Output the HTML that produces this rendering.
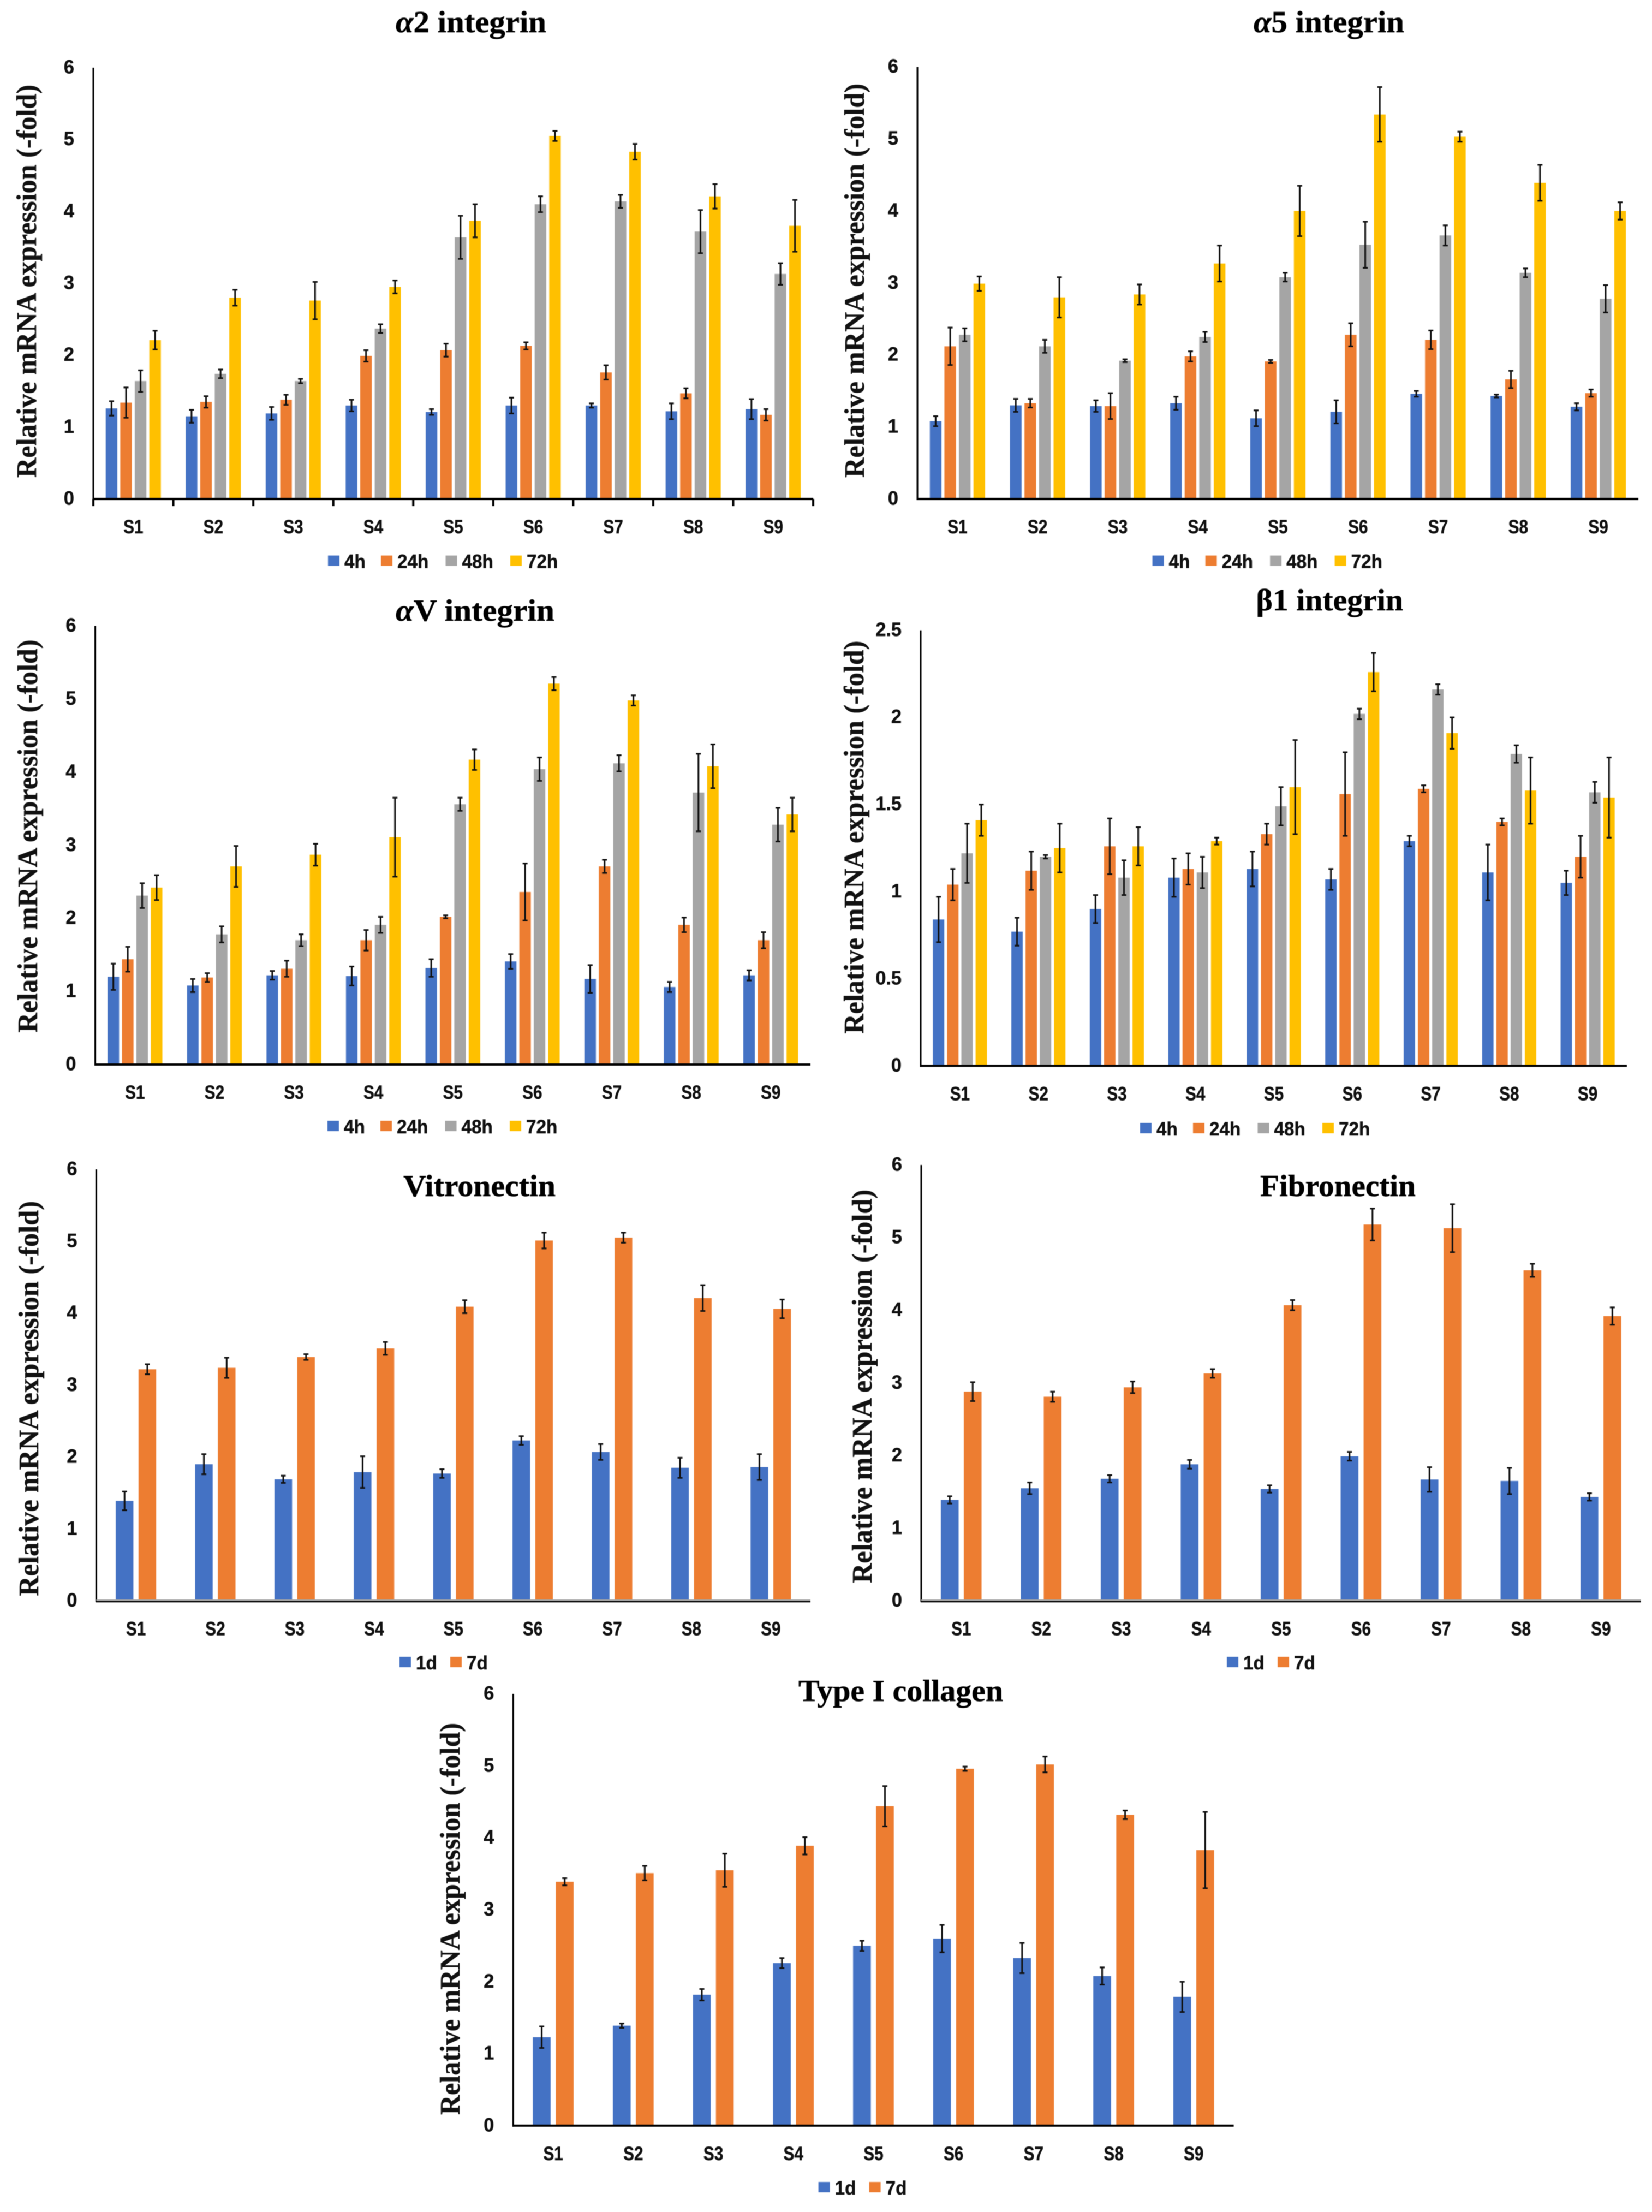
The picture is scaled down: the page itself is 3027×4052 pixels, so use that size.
<!DOCTYPE html>
<html lang="en">
<head>
<meta charset="utf-8">
<title>Relative mRNA expression charts</title>
<style>
html,body{margin:0;padding:0;background:#fff;}
svg{display:block;filter:blur(0.6px);}
.tick{font-family:"Liberation Sans",sans-serif;font-weight:bold;font-size:35px;fill:#111;stroke:#111;stroke-width:0.5px;}
.title{font-family:"Liberation Serif",serif;font-weight:bold;font-size:56px;fill:#000;stroke:#000;stroke-width:0.5px;}
.ytitle{font-family:"Liberation Serif",serif;font-weight:bold;font-size:52px;fill:#111;stroke:#111;stroke-width:0.4px;}
</style>
</head>
<body>
<svg id="figure" xmlns="http://www.w3.org/2000/svg" width="3027" height="4052" viewBox="0 0 3027 4052"></svg>
<script>
const categories = ['S1','S2','S3','S4','S5','S6','S7','S8','S9'];
const foldTicks = ['0','1','2','3','4','5','6'];
const betaTicks = ['0','0.5','1','1.5','2','2.5'];
const timeLabelsHours = ['4h','24h','48h','72h'];
const timeLabelsDays = ['1d','7d'];
const yAxisLabel = 'Relative mRNA expression (-fold)';

const a2_4h = [1.26,1.15,1.19,1.30,1.21,1.30,1.30,1.22,1.25];
const a2_4h_err = [0.10,0.09,0.09,0.08,0.04,0.11,0.03,0.11,0.14];
const a2_24h = [1.34,1.35,1.38,1.99,2.07,2.13,1.76,1.47,1.17];
const a2_24h_err = [0.21,0.08,0.07,0.08,0.09,0.05,0.10,0.07,0.08];
const a2_48h = [1.64,1.74,1.64,2.37,3.64,4.10,4.14,3.72,3.13];
const a2_48h_err = [0.15,0.06,0.03,0.06,0.30,0.11,0.09,0.30,0.15];
const a2_72h = [2.21,2.80,2.76,2.95,3.87,5.05,4.83,4.21,3.80];
const a2_72h_err = [0.13,0.11,0.26,0.09,0.23,0.07,0.11,0.17,0.36];

const a5_4h = [1.08,1.30,1.29,1.33,1.12,1.21,1.46,1.43,1.28];
const a5_4h_err = [0.07,0.09,0.08,0.09,0.11,0.16,0.04,0.02,0.05];
const a5_24h = [2.12,1.33,1.29,1.98,1.91,2.28,2.21,1.66,1.47];
const a5_24h_err = [0.26,0.06,0.18,0.07,0.02,0.16,0.13,0.12,0.05];
const a5_48h = [2.28,2.12,1.92,2.25,3.08,3.53,3.66,3.14,2.78];
const a5_48h_err = [0.09,0.09,0.02,0.07,0.06,0.32,0.14,0.06,0.19];
const a5_72h = [2.99,2.80,2.84,3.27,4.00,5.34,5.03,4.39,4.00];
const a5_72h_err = [0.10,0.28,0.14,0.25,0.35,0.38,0.07,0.25,0.12];

const av_4h = [1.20,1.08,1.22,1.21,1.32,1.41,1.17,1.06,1.22];
const av_4h_err = [0.18,0.09,0.06,0.13,0.12,0.10,0.19,0.07,0.07];
const av_24h = [1.44,1.19,1.31,1.70,2.02,2.36,2.71,1.91,1.70];
const av_24h_err = [0.17,0.06,0.11,0.14,0.02,0.39,0.09,0.10,0.11];
const av_48h = [2.31,1.78,1.70,1.91,3.56,4.04,4.12,3.72,3.28];
const av_48h_err = [0.17,0.11,0.08,0.11,0.09,0.16,0.11,0.53,0.23];
const av_72h = [2.42,2.71,2.87,3.11,4.17,5.21,4.98,4.08,3.42];
const av_72h_err = [0.17,0.28,0.15,0.54,0.14,0.09,0.07,0.30,0.23];

const b1_4h = [0.84,0.77,0.90,1.08,1.13,1.07,1.29,1.11,1.05];
const b1_4h_err = [0.13,0.08,0.08,0.11,0.10,0.06,0.03,0.16,0.07];
const b1_24h = [1.04,1.12,1.26,1.13,1.33,1.56,1.59,1.40,1.20];
const b1_24h_err = [0.09,0.11,0.16,0.09,0.06,0.24,0.02,0.02,0.12];
const b1_48h = [1.22,1.20,1.08,1.11,1.49,2.02,2.16,1.79,1.57];
const b1_48h_err = [0.17,0.01,0.10,0.09,0.11,0.03,0.03,0.05,0.06];
const b1_72h = [1.41,1.25,1.26,1.29,1.60,2.26,1.91,1.58,1.54];
const b1_72h_err = [0.09,0.14,0.11,0.02,0.27,0.11,0.09,0.19,0.23];

const vit_1d = [1.39,1.90,1.69,1.79,1.77,2.23,2.07,1.85,1.86];
const vit_1d_err = [0.13,0.14,0.05,0.22,0.06,0.06,0.11,0.14,0.18];
const vit_7d = [3.22,3.24,3.39,3.51,4.09,5.01,5.05,4.21,4.06];
const vit_7d_err = [0.07,0.14,0.04,0.09,0.09,0.11,0.07,0.18,0.13];

const fib_1d = [1.39,1.55,1.68,1.88,1.54,1.99,1.67,1.65,1.43];
const fib_1d_err = [0.05,0.08,0.05,0.06,0.05,0.06,0.17,0.18,0.05];
const fib_7d = [2.88,2.81,2.94,3.13,4.07,5.18,5.13,4.55,3.92];
const fib_7d_err = [0.13,0.07,0.08,0.06,0.07,0.22,0.33,0.09,0.12];

const col_1d = [1.23,1.39,1.82,2.26,2.50,2.60,2.33,2.08,1.79];
const col_1d_err = [0.15,0.03,0.08,0.07,0.07,0.19,0.21,0.12,0.21];
const col_7d = [3.39,3.51,3.55,3.89,4.44,4.96,5.02,4.32,3.83];
const col_7d_err = [0.05,0.10,0.23,0.12,0.28,0.03,0.11,0.06,0.53];

const seriesColors = ['#4472C4','#ED7D31','#A5A5A5','#FFC000'];

const charts = [
  { name:'alpha2-integrin', ymax:6, ticks:foldTicks, labels:timeLabelsHours,
    values:[a2_4h,a2_24h,a2_48h,a2_72h], errors:[a2_4h_err,a2_24h_err,a2_48h_err,a2_72h_err],
    x0:171, x1:1490, base:914, top:124, title:['α','2 integrin'], titleX:725, titleW:276, titleY:59,
    yTitleX:66, yTitleA:155, yTitleB:875, legendX:601, legendY:1027.6, xTicks:true, grayBase:false },
  { name:'alpha5-integrin', ymax:6, ticks:foldTicks, labels:timeLabelsHours,
    values:[a5_4h,a5_24h,a5_48h,a5_72h], errors:[a5_4h_err,a5_24h_err,a5_48h_err,a5_72h_err],
    x0:1681, x1:3002, base:914, top:122.6, title:['α','5 integrin'], titleX:2297, titleW:276, titleY:59,
    yTitleX:1583, yTitleA:153, yTitleB:875, legendX:2111.6, legendY:1027.6, xTicks:false, grayBase:false },
  { name:'alphaV-integrin', ymax:6, ticks:foldTicks, labels:timeLabelsHours,
    values:[av_4h,av_24h,av_48h,av_72h], errors:[av_4h_err,av_24h_err,av_48h_err,av_72h_err],
    x0:174.5, x1:1485, base:1950, top:1146.5, title:['α','V integrin'], titleX:725, titleW:291, titleY:1137,
    yTitleX:68, yTitleA:1171.5, yTitleB:1891.5, legendX:600, legendY:2063, xTicks:false, grayBase:false },
  { name:'beta1-integrin', ymax:2.5, ticks:betaTicks, labels:timeLabelsHours,
    values:[b1_4h,b1_24h,b1_48h,b1_72h], errors:[b1_4h_err,b1_24h_err,b1_48h_err,b1_72h_err],
    x0:1687, x1:2981, base:1952.4, top:1154.6, title:['','β1 integrin'], titleX:2301.5, titleW:269.5, titleY:1118,
    yTitleX:1582, yTitleA:1173.6, yTitleB:1893.6, legendX:2089, legendY:2067, xTicks:false, grayBase:false },
  { name:'vitronectin', ymax:6, ticks:foldTicks, labels:timeLabelsDays,
    values:[vit_1d,vit_7d], errors:[vit_1d_err,vit_7d_err],
    x0:176.4, x1:1485, base:2932.5, top:2142, title:['','Vitronectin'], titleX:739, titleW:279, titleY:2191,
    yTitleX:70, yTitleA:2200, yTitleB:2923.7, legendX:732, legendY:3045, xTicks:false, grayBase:true },
  { name:'fibronectin', ymax:6, ticks:foldTicks, labels:timeLabelsDays,
    values:[fib_1d,fib_7d], errors:[fib_1d_err,fib_7d_err],
    x0:1688, x1:3006.6, base:2932.5, top:2134, title:['','Fibronectin'], titleX:2309, titleW:285, titleY:2191,
    yTitleX:1597, yTitleA:2179, yTitleB:2900, legendX:2248, legendY:3045, xTicks:false, grayBase:true },
  { name:'type-i-collagen', ymax:6, ticks:foldTicks, labels:timeLabelsDays,
    values:[col_1d,col_7d], errors:[col_1d_err,col_7d_err],
    x0:940.3, x1:2260.6, base:3893.9, top:3103, title:['','Type I collagen'], titleX:1463, titleW:375, titleY:3116,
    yTitleX:842, yTitleA:3156, yTitleB:3874, legendX:1499.6, legendY:4007, xTicks:false, grayBase:false }
];

const SVG_NS = 'http://www.w3.org/2000/svg';
const figure = document.getElementById('figure');

function shape(parent, tag, attrs) {
  const el = document.createElementNS(SVG_NS, tag);
  for (const key in attrs) el.setAttribute(key, attrs[key]);
  parent.appendChild(el);
  return el;
}
function yScale(c, v) { return c.base - (v / c.ymax) * (c.base - c.top); }
function categoryWidth(c) { return (c.x1 - c.x0) / categories.length; }
function categoryCenter(c, i) { return c.x0 + categoryWidth(c) * (i + 0.5); }
function barWidth(c, n) { return categoryWidth(c) * (n === 4 ? 0.145 : 0.222); }
function barPitch(c, n) { return categoryWidth(c) * (n === 4 ? 0.1815 : 0.287); }
function barLeft(c, i, s, n) {
  const total = barPitch(c, n) * (n - 1) + barWidth(c, n);
  return categoryCenter(c, i) - total / 2 + barPitch(c, n) * s;
}

function drawChart(c) {
  const group = shape(figure, 'g', {});
  
  

  const title = shape(group, 'text', { class:'title', x:c.titleX, y:c.titleY, textLength:c.titleW, lengthAdjust:'spacingAndGlyphs' });
  
  
  if (c.title[0]) {
    const greek = shape(title, 'tspan', { 'font-style':'italic' });
    greek.textContent = c.title[0];
  }
  title.appendChild(document.createTextNode(c.title[1]));

  const yMid = (c.yTitleA + c.yTitleB) / 2;
  const yTitle = shape(group, 'text', { class:'ytitle', 'text-anchor':'middle', textLength:c.yTitleB - c.yTitleA, lengthAdjust:'spacingAndGlyphs',
    transform:'translate(' + c.yTitleX + ' ' + yMid + ') rotate(-90)' });
  
  
  yTitle.textContent = yAxisLabel;

  c.ticks.forEach(function (t) {
    const label = shape(group, 'text', { class:'tick', 'text-anchor':'end',
      transform:'translate(' + (c.x0 - 35) + ' ' + (yScale(c, parseFloat(t)) + 10.5) + ') scale(0.98 1)' });
    
    
    label.textContent = t;
  });

  categories.forEach(function (cat, i) {
    const label = shape(group, 'text', { class:'tick', 'text-anchor':'middle',
      transform:'translate(' + categoryCenter(c, i) + ' ' + (c.base + 63) + ') scale(0.85 1)' });
    
    
    label.textContent = cat;
  });

  const n = c.values.length;
  c.values.forEach(function (vals, s) {
    vals.forEach(function (v, i) {
      const left = barLeft(c, i, s, n);
      const w = barWidth(c, n);
      const bar = shape(group, 'rect', { x:left, y:yScale(c, v), width:w, height:c.base - yScale(c, v), fill:seriesColors[s] });
      
      
    });
  });
  c.values.forEach(function (vals, s) {
    vals.forEach(function (v, i) {
      const cx = barLeft(c, i, s, n) + barWidth(c, n) / 2;
      const e = c.errors[s][i];
      const yHi = yScale(c, v + e);
      const yLo = yScale(c, v - e);
      const err = shape(group, 'path', { d:'M' + cx + ' ' + yHi + 'V' + yLo + 'M' + (cx - 4.5) + ' ' + yHi + 'H' + (cx + 4.5) + 'M' + (cx - 4.5) + ' ' + yLo + 'H' + (cx + 4.5),
        stroke:'#111', 'stroke-width':3, fill:'none' });
      
      
    });
  });

  const yAxis = shape(group, 'line', { x1:c.x0, x2:c.x0, y1:c.top, y2:c.base + 2, stroke:'#000', 'stroke-width':3 });
  
  

  if (c.grayBase) {
    const under = shape(group, 'line', { x1:c.x0, x2:c.x1, y1:c.base - 1, y2:c.base - 1, stroke:'#A5A5A5', 'stroke-width':3 });
    
    
  }
  const xAxis = shape(group, 'line', { x1:c.x0 - 1, x2:c.x1, y1:c.base + (c.grayBase ? 1.5 : 0), y2:c.base + (c.grayBase ? 1.5 : 0), stroke:'#000', 'stroke-width':c.grayBase ? 2.4 : 4 });
  
  

  if (c.xTicks) {
    for (let i = 0; i <= categories.length; i++) {
      const tx = c.x0 + categoryWidth(c) * i;
      const tick = shape(group, 'line', { x1:tx, x2:tx, y1:c.base, y2:c.base + 13, stroke:'#000', 'stroke-width':4 });
      
      
    }
  }

  let lx = c.legendX;
  c.labels.forEach(function (lab, s) {
    const swatch = shape(group, 'rect', { x:lx, y:c.legendY - 10, width:21, height:19, fill:seriesColors[s] });
    
    
    const text = shape(group, 'text', { class:'tick', transform:'translate(' + (lx + 30) + ' ' + (c.legendY + 13) + ') scale(0.95 1)' });
    
    
    text.textContent = lab;
    lx += lab.length === 2 ? (c.labels.length === 2 ? 93 : 97) : 118.5;
  });
}

charts.forEach(drawChart);
</script>
</body>
</html>
